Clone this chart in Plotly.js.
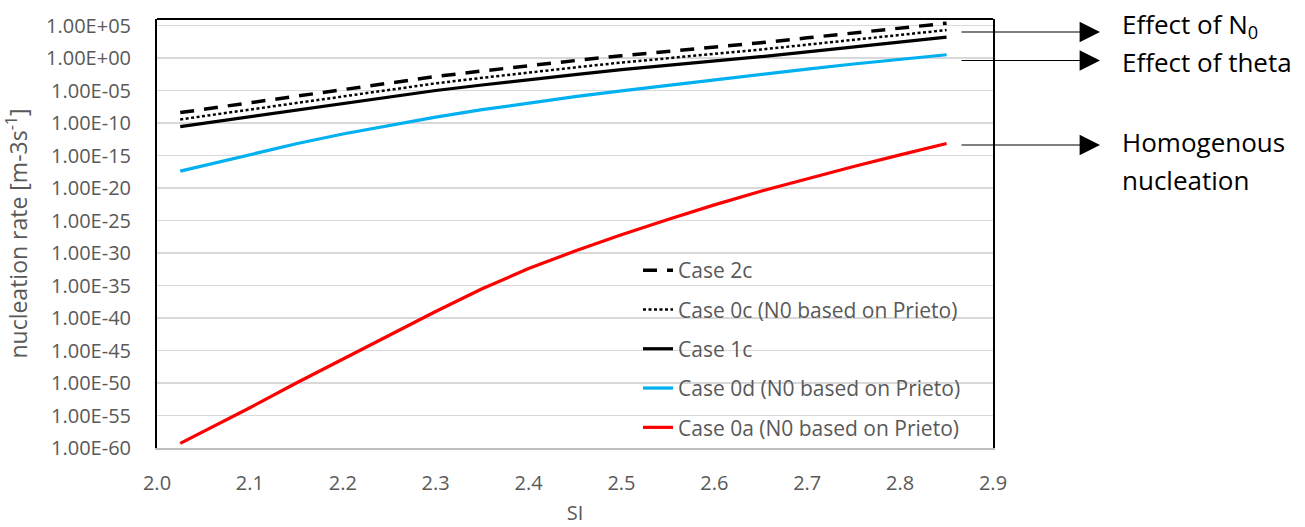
<!DOCTYPE html>
<html>
<head>
<meta charset="utf-8">
<script src="https://cdn.plot.ly/plotly-3.0.1.min.js"></script>
<style>html,body{margin:0;padding:0;background:#fff;}#chart{width:1305px;height:527px;}</style>
</head>
<body>
<div id="chart"></div>
<script>
// Supersaturation index (SI)
const si = [2.025, 2.05, 2.1, 2.15, 2.2, 2.25, 2.3, 2.35, 2.4, 2.45, 2.5, 2.55, 2.6, 2.65, 2.7, 2.75, 2.8, 2.85];

// nucleation rate [m-3 s-1]
const case2c = [3.98e-9, 1.26e-8, 1.26e-7, 1.26e-6, 1.26e-5, 1.26e-4, 1.41e-3, 1.0e-2, 7.08e-2, 3.98e-1, 2.24, 10, 39.8, 224, 1259, 7079, 39811, 223872];
const case0c = [3.55e-10, 1.12e-9, 1.12e-8, 1.12e-7, 1.12e-6, 1.12e-5, 1.26e-4, 8.91e-4, 6.31e-3, 3.55e-2, 2.0e-1, 8.91e-1, 3.55, 20.0, 112, 631, 3548, 19950];
const case1c = [2.82e-11, 8.91e-11, 8.91e-10, 8.91e-9, 8.91e-8, 8.91e-7, 1.0e-5, 7.08e-5, 5.01e-4, 2.82e-3, 1.58e-2, 7.08e-2, 2.82e-1, 1.58, 8.91, 50.1, 282, 1585];
const case0d = [3.98e-18, 2.82e-17, 1.58e-15, 6.31e-14, 2.0e-12, 4.47e-11, 7.94e-10, 1.12e-8, 1.26e-7, 1.12e-6, 8.91e-6, 6.31e-5, 4.47e-4, 3.16e-3, 2.0e-2, 1.2e-1, 6.31e-1, 3.16];
const case0a = [5.01e-60, 3.16e-58, 1.58e-54, 1.0e-50, 5.01e-47, 2.24e-43, 1.0e-39, 3.16e-36, 3.98e-33, 2.0e-30, 6.31e-28, 1.41e-25, 2.51e-23, 3.16e-21, 2.82e-19, 2.0e-17, 1.26e-15, 7.08e-14];

const seriesNames = ["Case 2c", "Case 0c (N0 based on Prieto)", "Case 1c", "Case 0d (N0 based on Prieto)", "Case 0a (N0 based on Prieto)"];

const yTickVals = [1e-60, 1e-55, 1e-50, 1e-45, 1e-40, 1e-35, 1e-30, 1e-25, 1e-20, 1e-15, 1e-10, 1e-5, 1e0, 1e5];
const yTickText = ["1.00E-60", "1.00E-55", "1.00E-50", "1.00E-45", "1.00E-40", "1.00E-35", "1.00E-30", "1.00E-25", "1.00E-20", "1.00E-15", "1.00E-10", "1.00E-05", "1.00E+00", "1.00E+05"];
const xTickVals = [2.0, 2.1, 2.2, 2.3, 2.4, 2.5, 2.6, 2.7, 2.8, 2.9];
const xTickText = ["2.0", "2.1", "2.2", "2.3", "2.4", "2.5", "2.6", "2.7", "2.8", "2.9"];

const callouts = ["Effect of N<sub>0</sub>", "Effect of theta", "Homogenous", "nucleation"];

const FONT = "Open Sans, Liberation Sans, Arial, sans-serif";
const GREY = "#595959";

function tr(y, name, color, width, dash, grp) {
  return {x: si, y: y, name: name, type: "scatter", mode: "lines",
          line: {color: color, width: width, dash: dash, shape: "linear"},
          legendgroup: grp, hoverinfo: "skip"};
}

const data = [
  tr(case2c, seriesNames[0], "#000000", 3.5, "14px,10px", "g1"),
  tr(case0c, seriesNames[1], "#000000", 2.5, "3px,2.5px", "g2"),
  tr(case1c, seriesNames[2], "#000000", 3.2, "solid", "g3"),
  tr(case0d, seriesNames[3], "#00B0F0", 3.2, "solid", "g4"),
  tr(case0a, seriesNames[4], "#FF0000", 3.2, "solid", "g5")
];

// plot area geometry in px for placing callouts
const L = 157, R = 312, T = 19, B = 79, W = 1305, H = 527;
const pw = W - L - R, ph = H - T - B;
const px = v => (v - L) / pw;
const py = v => (H - B - v) / ph;

const arrowStyle = {xref: "paper", yref: "paper", showarrow: true, arrowhead: 2,
  arrowsize: 3.4, arrowwidth: 1.2, arrowcolor: "#000", axref: "pixel", ayref: "pixel",
  ax: -140, ay: 0, text: "", standoff: 0, startstandoff: 0};

const textStyle = {xref: "paper", yref: "paper", showarrow: false, xanchor: "left",
  yanchor: "middle", font: {family: FONT, size: 26, color: "#000"}};

const layout = {
  width: W, height: H,
  margin: {l: L, r: R, t: T, b: B, pad: 0},
  paper_bgcolor: "#ffffff", plot_bgcolor: "#ffffff",
  font: {family: FONT, color: GREY, size: 20},
  showlegend: true,
  legend: {x: px(638), y: py(250), xanchor: "left", yanchor: "top",
    bgcolor: "rgba(0,0,0,0)", borderwidth: 0, font: {family: FONT, size: 21, color: GREY},
    tracegroupgap: 9, itemwidth: 30, traceorder: "grouped"},
  xaxis: {range: [2.0, 2.9], tickvals: xTickVals, ticktext: xTickText,
    showgrid: false, zeroline: false, showline: true, linecolor: "#bfbfbf", linewidth: 2,
    ticks: "outside", ticklen: 16, tickcolor: "rgba(0,0,0,0)",
    tickfont: {family: FONT, size: 20, color: GREY},
    title: {text: "SI", font: {family: FONT, size: 20, color: GREY}, standoff: 11}},
  yaxis: {type: "log", range: [-60, 6], tickvals: yTickVals, ticktext: yTickText,
    showgrid: true, gridcolor: "#d9d9d9", gridwidth: 1.6, zeroline: false,
    showline: true, linecolor: "#000000", linewidth: 2, mirror: true,
    ticks: "outside", ticklen: 20, tickcolor: "rgba(0,0,0,0)",
    tickfont: {family: FONT, size: 20, color: GREY},
    title: {text: "nucleation rate [m-3s<sup>-1</sup>]", font: {family: FONT, size: 23, color: GREY}, standoff: 12}},
  shapes: [
    {type: "line", xref: "paper", yref: "paper", x0: 0, x1: 1, y0: 1, y1: 1,
     line: {color: "#000", width: 2}, layer: "above"}
  ],
  annotations: [
    Object.assign({}, arrowStyle, {x: px(1100), y: py(32)}),
    Object.assign({}, arrowStyle, {x: px(1100), y: py(60.5)}),
    Object.assign({}, arrowStyle, {x: px(1100), y: py(145)}),
    Object.assign({}, textStyle, {x: px(1120), y: py(25), text: callouts[0]}),
    Object.assign({}, textStyle, {x: px(1120), y: py(62), text: callouts[1]}),
    Object.assign({}, textStyle, {x: px(1120), y: py(142), text: callouts[2]}),
    Object.assign({}, textStyle, {x: px(1120), y: py(180), text: callouts[3]})
  ]
};

Plotly.newPlot("chart", data, layout, {staticPlot: true, displayModeBar: false});
</script>
</body>
</html>
